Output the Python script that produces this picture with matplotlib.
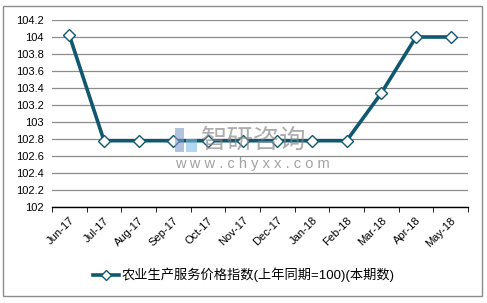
import numpy as np
import matplotlib.pyplot as plt
from matplotlib.patches import Rectangle

plt.rcParams['font.family'] = ['Liberation Sans', 'Noto Sans CJK SC', 'DejaVu Sans']

months = ['Jun-17', 'Jul-17', 'Aug-17', 'Sep-17', 'Oct-17', 'Nov-17',
          'Dec-17', 'Jan-18', 'Feb-18', 'Mar-18', 'Apr-18', 'May-18']
values = [104.02, 102.78, 102.78, 102.78, 102.78, 102.78,
          102.78, 102.78, 102.78, 103.34, 104.0, 104.0]
yticks = [102, 102.2, 102.4, 102.6, 102.8, 103, 103.2, 103.4, 103.6, 103.8, 104, 104.2]
label = '农业生产服务价格指数(上年同期=100)(本期数)'

W, H = 487, 303
fig = plt.figure(figsize=(W / 100, H / 100), dpi=100)
ax = fig.add_axes([52 / W, 1 - 207 / H, 416 / W, 187 / H])

x = np.arange(len(months))
ax.plot(x, values, color='#0f5870', lw=2.6, marker='D', ms=6.5,
        mfc='white', mec='#0f5870', mew=1.0, label=label, zorder=3)

ax.set_xlim(-0.5, len(months) - 0.5)
ax.set_ylim(102, 104.2)
ax.set_yticks(yticks)
ax.set_yticklabels(['%g' % v for v in yticks], fontsize=8)
ax.grid(axis='y', color='#8c8c8c', lw=0.9)
ax.set_axisbelow(True)

ax.set_xticks(x)
ax.set_xticklabels(months, rotation=45, ha='right', rotation_mode='anchor', fontsize=8)
ax.set_xticks(np.arange(-0.5, len(months), 1), minor=True)
ax.tick_params(axis='x', which='major', length=0, pad=6)
ax.tick_params(axis='x', which='minor', length=3.5, color='black', direction='out')
ax.tick_params(axis='y', length=0, pad=6)

for s in ['left', 'right', 'top']:
    ax.spines[s].set_visible(False)
ax.spines['bottom'].set_color('black')
ax.spines['bottom'].set_linewidth(1)

# watermark
fig.patches.append(Rectangle((175 / W, 1 - 152 / H), 9 / W, 24 / H, transform=fig.transFigure,
                             color='#7f9acb', alpha=0.6, lw=0, zorder=4))
fig.patches.append(Rectangle((186 / W, 1 - 152 / H), 11 / W, 13 / H, transform=fig.transFigure,
                             color='#7fbde6', alpha=0.6, lw=0, zorder=4))
fig.text(201 / W, 1 - 140 / H, '智研咨询', fontsize=19, color='#8a8a8a', alpha=0.7,
         va='center', ha='left', family=['Noto Sans CJK SC'], zorder=4)
fig.text(175 / W, 1 - 164 / H, 'w w w . c h y x x . c o m', fontsize=10.5, color='#8a8a8a',
         alpha=0.8, va='center', ha='left', zorder=4)

fig.legend(loc='center', bbox_to_anchor=(0.5, 1 - 275 / H), frameon=False,
           fontsize=9.5, handlelength=2.0, handletextpad=0.15, markerscale=0.85)

fig.patches.append(Rectangle((3 / W, 1 - 296 / H), 479 / W, 290 / H,
                             transform=fig.transFigure, fill=False,
                             edgecolor='#8c8c8c', lw=1))

fig.savefig('out.png', dpi=100)
